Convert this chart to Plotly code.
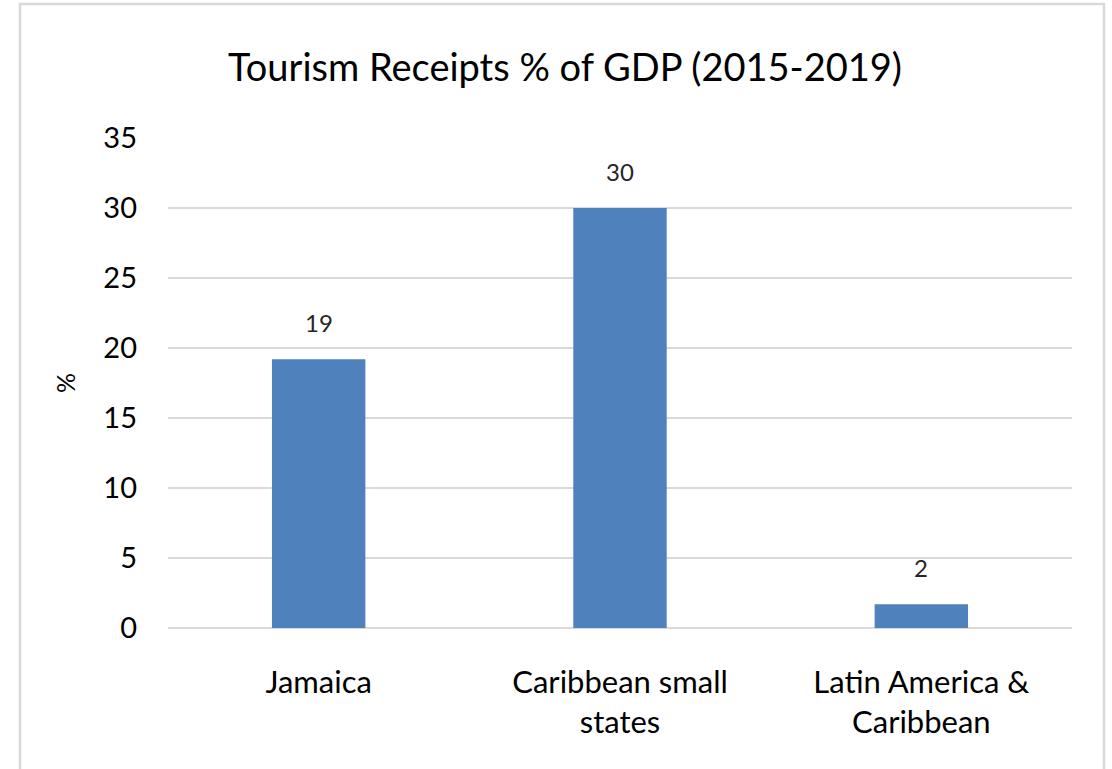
import plotly.graph_objects as go

categories = ["Jamaica", "Caribbean small<br>states", "Latin America &<br>Caribbean"]
values = [19.2, 30.0, 1.7]
labels = ["19", "30", "2"]
y_ticks = [0, 5, 10, 15, 20, 25, 30, 35]

W, H = 1112, 769
L, R, T, B = 168, 1072, 138, 628  # plot area in pixels

def px_x(x):
    return (x - L) / (R - L)

def px_y(y):
    return (B - y) / (B - T)

FONT = "Lato"
fig = go.Figure()
fig.add_trace(go.Bar(
    x=categories, y=values,
    marker=dict(color="#4F81BD", line=dict(width=0)),
    width=0.31,
    hoverinfo="skip",
))
for c, v, t in zip(categories, values, labels):
    fig.add_annotation(x=c, y=v, text=t, showarrow=False, yanchor="bottom",
                       yshift=20, font=dict(family=FONT, size=24, color="#262626"))

fig.add_shape(type="rect", xref="paper", yref="paper",
              x0=px_x(20), x1=px_x(1104), y0=px_y(790), y1=px_y(4),
              line=dict(color="#D9D9D9", width=2.5), fillcolor="rgba(0,0,0,0)", layer="below")

fig.update_layout(
    width=W, height=H,
    margin=dict(l=L, r=W - R, t=T, b=H - B, pad=0),
    paper_bgcolor="white", plot_bgcolor="white",
    showlegend=False,
    title=dict(text="Tourism Receipts % of GDP (2015-2019)", x=px_x(565), xanchor="center",
               xref="paper", y=1 - 68 / H, yanchor="middle",
               font=dict(family=FONT, size=38, color="#000000")),
    font=dict(family=FONT, color="#000000"),
)
fig.update_xaxes(showgrid=False, showline=False, ticks="", zeroline=False,
                 tickfont=dict(family=FONT, size=31, color="#000000"),
                 ticklabelstandoff=33)
fig.update_yaxes(range=[0, 35], tickvals=y_ticks, showgrid=True, gridcolor="#D9D9D9", gridwidth=2,
                 zeroline=True, zerolinecolor="#D9D9D9", zerolinewidth=2, showline=False,
                 tickfont=dict(family=FONT, size=29, color="#000000"), ticks="",
                 ticklabelstandoff=30,
                 title=dict(text="%", font=dict(family=FONT, size=25, color="#000000"), standoff=20))

fig.write_html("out.html")
